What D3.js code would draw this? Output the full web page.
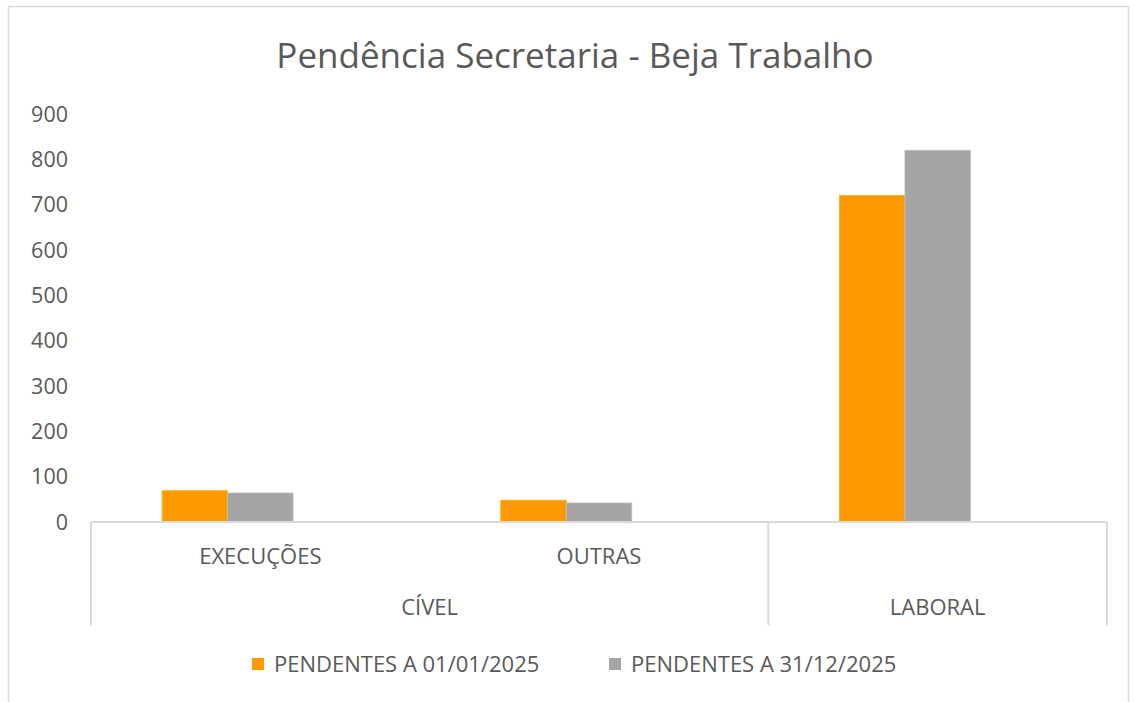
<!DOCTYPE html>
<html><head><meta charset="utf-8">
<script src="https://cdn.jsdelivr.net/npm/d3@7"></script>
<style>body{margin:0;background:#fff}svg{display:block}text{font-family:"Open Sans",sans-serif;fill:#595959}</style>
</head><body><svg id="c" width="1134" height="702"></svg>
<script>
const title = "Pendência Secretaria - Beja Trabalho";
const categories = ["EXECUÇÕES", "OUTRAS", "LABORAL"];
const groups = ["CÍVEL", "CÍVEL", "LABORAL"];
const subLabels = ["EXECUÇÕES", "OUTRAS", ""];
const seriesNames = ["PENDENTES A 01/01/2025", "PENDENTES A 31/12/2025"];
const seriesColors = ["#ff9900", "#a5a5a5"];
const pend0101 = [69, 48, 720];
const pend3112 = [64, 42, 820];
const yTicks = [0, 100, 200, 300, 400, 500, 600, 700, 800, 900];

(function () {
const svg = d3.select("#c");
const mLeft = 91, mRight = 1107, mTop = 114, mBottom = 522;

svg.append("rect").attr("x", 8.5).attr("y", 6.5).attr("width", 1120).attr("height", 700)
  .attr("fill", "none").attr("stroke", "#d9d9d9").attr("stroke-width", 1.5);

svg.append("text").attr("x", 575).attr("y", 68).attr("text-anchor", "middle")
  .style("font-size", "35px").text(title);

const y = d3.scaleLinear().domain([0, 900]).range([mBottom, mTop]);
const x0 = d3.scaleBand().domain(categories).range([mLeft, mRight]).padding(0);
const slots = [0, 1, 2]; // 3 series slots, third empty (as in the source)
const x1 = d3.scaleBand().domain(slots).range([x0.bandwidth() * 0.21, x0.bandwidth() * 0.79]).padding(0);

svg.append("g").selectAll("text").data(yTicks).join("text")
  .attr("x", 68).attr("y", d => y(d)).attr("dy", "0.35em").attr("text-anchor", "end")
  .style("font-size", "21.5px").text(d => d);

const series = [pend0101, pend3112];
series.forEach((vals, si) => {
  svg.append("g").selectAll("rect").data(vals).join("rect")
    .attr("x", (d, i) => x0(categories[i]) + x1(si))
    .attr("y", d => y(d))
    .attr("width", x1.bandwidth())
    .attr("height", d => y(0) - y(d))
    .attr("fill", seriesColors[si])
    .attr("stroke", d3.color(seriesColors[si]).brighter(0.4)).attr("stroke-width", 0.8);
});

const lineCol = "#d9d9d9";
svg.append("line").attr("x1", mLeft).attr("x2", mRight).attr("y1", mBottom).attr("y2", mBottom)
  .attr("stroke", lineCol).attr("stroke-width", 2);
const sepX = [x0(categories[0]), x0(categories[2]), x0(categories[2]) + x0.bandwidth()];
svg.append("g").selectAll("line").data(sepX).join("line")
  .attr("x1", d => d).attr("x2", d => d).attr("y1", mBottom).attr("y2", 625)
  .attr("stroke", lineCol).attr("stroke-width", 2);

svg.append("g").selectAll("text").data(subLabels).join("text")
  .attr("x", (d, i) => x0(categories[i]) + x0.bandwidth() / 2).attr("y", 564)
  .attr("text-anchor", "middle").style("font-size", "22px").text(d => d);

const uniq = Array.from(new Set(groups));
svg.append("g").selectAll("text").data(uniq).join("text")
  .attr("x", g => {
    const idx = groups.map((v, i) => v === g ? i : -1).filter(i => i >= 0);
    const a = x0(categories[idx[0]]), b = x0(categories[idx[idx.length - 1]]) + x0.bandwidth();
    return (a + b) / 2;
  })
  .attr("y", 615).attr("text-anchor", "middle").style("font-size", "22px").text(d => d);

const legX = [252, 609];
const lg = svg.append("g").selectAll("g").data(seriesNames).join("g")
  .attr("transform", (d, i) => `translate(${legX[i]},664)`);
lg.append("rect").attr("x", 0).attr("y", -6).attr("width", 12).attr("height", 12)
  .attr("fill", (d, i) => seriesColors[i]);
lg.append("text").attr("x", 22).attr("y", 0).attr("dy", "0.35em").style("font-size", "22px").text(d => d);
})();
</script></body></html>
